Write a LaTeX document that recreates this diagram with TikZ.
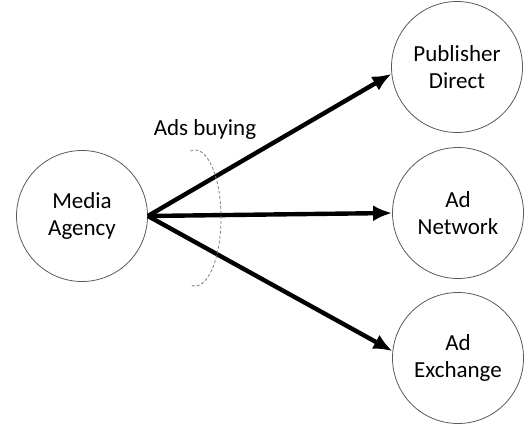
\documentclass[tikz,border=0pt]{standalone}
\usepackage{fontspec}
\setmainfont{Carlito}
\usepackage{tikz}
\usetikzlibrary{arrows.meta}

\tikzset{
  party/.style={circle, draw=black!65, line width=0.8pt, minimum size=131pt, inner sep=0pt,
    align=center, font=\fontsize{23}{27}\selectfont, text=black},
  buy/.style={line width=4.4pt, -{Latex[length=19pt,width=16pt]}}
}

\begin{document}
\begin{tikzpicture}[x=1pt, y=1pt]
  \useasboundingbox (0,0) rectangle (524,424);
  \node[party] (agency) at (82,208) {Media\\Agency};
  \node[party] (direct) at (457,357) {Publisher\\Direct};
  \node[party] (network) at (458,211) {Ad\\Network};
  \node[party] (exchange) at (458,66) {Ad\\Exchange};
  % buying channels
  \foreach \t/\a in {direct/186, network/180, exchange/174} {
    \draw[buy] (agency.east) -- (\t.\a);
  }
  \draw[black!50, line width=0.8pt, dash pattern=on 3pt off 2pt]
    (195,206) ++(100:26 and 68) arc[start angle=100, end angle=-100, x radius=26, y radius=68];
  \node[font=\fontsize{23}{27}\selectfont, text=black] (label) at (205,295) {Ads buying};
\end{tikzpicture}
\end{document}
